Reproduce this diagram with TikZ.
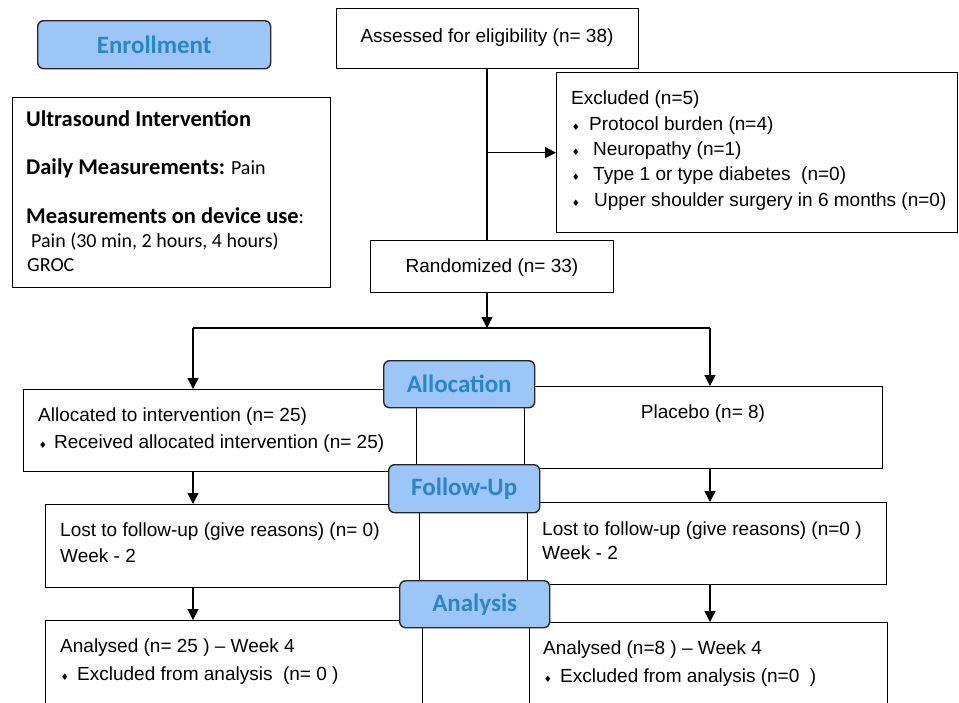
\documentclass[tikz,border=0pt]{standalone}
\usepackage{fontspec}
\setmainfont{Liberation Sans}
\newfontfamily\calfont{Carlito}
\newfontfamily\dvfont{DejaVu Sans}
\usetikzlibrary{arrows.meta}
\definecolor{labfill}{HTML}{9CC5F8}
\definecolor{labtext}{HTML}{2A86C6}
\newcommand\dmd{{\dvfont\fontsize{9}{9}\selectfont ♦}}
\begin{document}
\begin{tikzpicture}[x=1pt,y=-1pt,font=\fontsize{19}{23}\selectfont,
  box/.style={draw,line width=1.3pt,inner sep=0pt,anchor=north west},
  lab/.style={draw=black!85,fill=labfill,rounded corners=6pt,line width=1.4pt,inner sep=0pt,anchor=north west,
    font=\calfont\bfseries\fontsize{25}{30}\selectfont,text=labtext},
  txt/.style={inner sep=0pt,anchor=base west},
  bul/.style={inner sep=0pt,anchor=base},
  arr/.style={-{Triangle[length=11pt,width=11pt]},line width=1.3pt},
  ln/.style={line width=1.3pt}]
\useasboundingbox (0,0) rectangle (959,702);
\clip (0,0) rectangle (959,702);

% top boxes
\node[lab,minimum width=233pt,minimum height=48pt] (enr) at (37,20) {Enrollment};
\node[box,minimum width=318pt,minimum height=190pt] (us) at (12,97) {};
\node[box,minimum width=302pt,minimum height=60pt] (ass) at (336,8) {};
\node[box,minimum width=401pt,minimum height=160pt] (exc) at (556,72) {};
\node[box,minimum width=243pt,minimum height=52pt] (rnd) at (370,240) {};

% lower boxes
\node[box,minimum width=393pt,minimum height=82pt] (al) at (23,389) {};
\node[box,minimum width=358pt,minimum height=82pt] (pl) at (524,386) {};
\node[box,minimum width=374pt,minimum height=83pt] (lf1) at (45,504) {};
\node[box,minimum width=359pt,minimum height=82pt] (lf2) at (527,502) {};
\node[box,minimum width=377pt,minimum height=100pt] (an1) at (45,620) {};
\node[box,minimum width=358pt,minimum height=100pt] (an2) at (529,622) {};

% stage labels
\node[lab,minimum width=151pt,minimum height=47pt] (lalloc) at (383,360) {Allocation};
\node[lab,minimum width=151pt,minimum height=48pt] (lfu) at (388,464) {Follow-Up};
\node[lab,minimum width=150pt,minimum height=47pt] (lan) at (399,580) {Analysis};

% connectors
\coordinate (sp) at (487,328);
\coordinate (sl) at (193,328);
\coordinate (sr) at (710,328);
\draw[ln] (sp |- ass.south) -- (sp |- rnd.north);
\draw[arr] (sp |- exc.west) -- (exc.west);
\draw[arr] (sp |- rnd.south) -- (sp);
\draw[ln] (sl) -- (sr);
\draw[arr] (sl) -- (sl |- al.north);
\draw[arr] (sr) -- (sr |- pl.north);
\draw[arr] (sl |- al.south) -- (sl |- lf1.north);
\draw[arr] (sr |- pl.south) -- (sr |- lf2.north);
\draw[arr] (sl |- lf1.south) -- (sl |- an1.north);
\draw[arr] (sr |- lf2.south) -- (sr |- an2.north);

% texts: ultrasound box
\node[txt,font=\calfont\bfseries\fontsize{22.5}{27}\selectfont] (u1) at (26,126) {Ultrasound Intervention};
\node[txt,font=\calfont\fontsize{20}{24}\selectfont] (u2) at (26,174) {{\bfseries\fontsize{22.5}{27}\selectfont Daily Measurements:} Pain};
\node[txt,font=\calfont\fontsize{20}{24}\selectfont] (u3) at (26,223) {{\bfseries\fontsize{22.5}{27}\selectfont Measurements on device use}:};
\node[txt,font=\calfont\fontsize{20}{24}\selectfont] (u4) at (31,247) {Pain (30 min, 2 hours, 4 hours)};
\node[txt,font=\calfont\fontsize{20}{24}\selectfont] (u5) at (27,271) {GROC};

% texts: flow
\node[bul] (t1) at (487,42) {Assessed for eligibility (n= 38)};
\node[txt] (t2) at (571,104) {Excluded (n=5)};
\node[bul] (b1) at (576,130) {\dmd};
\node[txt] (t3) at (589,130) {Protocol burden (n=4)};
\node[bul] (b2) at (576,155) {\dmd};
\node[txt] (t4) at (593,155) {Neuropathy (n=1)};
\node[bul] (b3) at (576,180) {\dmd};
\node[txt] (t5) at (593,180) {Type 1 or type diabetes \ (n=0)};
\node[bul] (b4) at (576,206) {\dmd};
\node[txt] (t6) at (594,206) {Upper shoulder surgery in 6 months (n=0)};
\node[bul] (t7) at (492,272.5) {Randomized (n= 33)};

\node[txt] (t8) at (38,421.7) {Allocated to intervention (n= 25)};
\node[bul] (b5) at (43,448) {\dmd};
\node[txt] (t9) at (54,448) {Received allocated intervention (n= 25)};
\node[bul] (t10) at (703,418) {Placebo (n= 8)};

\node[txt] (t11) at (60,536.7) {Lost to follow-up (give reasons) (n= 0)};
\node[txt] (t12) at (60,562.7) {Week - 2};
\node[txt] (t13) at (542,535) {Lost to follow-up (give reasons) (n=0 )};
\node[txt] (t14) at (542,559) {Week - 2};

\node[txt] (t15) at (60,652) {Analysed (n= 25 ) -- Week 4};
\node[bul] (b6) at (65,680) {\dmd};
\node[txt] (t16) at (77,680) {Excluded from analysis \ (n= 0 )};
\node[txt] (t17) at (543,654) {Analysed (n=8 ) -- Week 4};
\node[bul] (b7) at (548,682.7) {\dmd};
\node[txt] (t18) at (560,682.7) {Excluded from analysis (n=0 \ )};
\end{tikzpicture}
\end{document}
